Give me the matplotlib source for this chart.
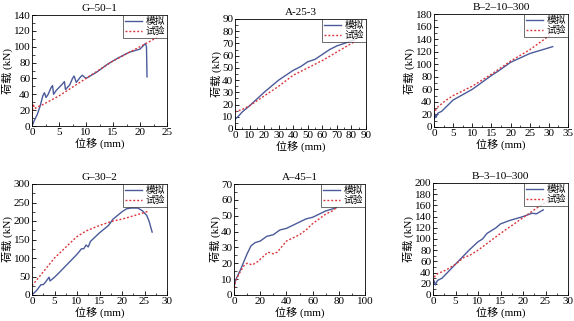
import matplotlib
matplotlib.use("Agg")
import matplotlib.pyplot as plt
from matplotlib.ticker import MultipleLocator, AutoMinorLocator

plt.rcParams['font.family'] = ['Liberation Serif', 'Noto Sans CJK SC']
plt.rcParams['font.size'] = 8

W, H = 574, 321

# panel titles
titles = ['G–50–1', 'A-25-3', 'B–2–10–300', 'G–30–2', 'A–45–1', 'B–3–10–300']

# simulated (模拟) curves
sim_x = [
    [0, 0.5, 1, 1.5, 2, 2.3, 2.6, 3, 3.5, 3.8, 4, 4.5, 5.5, 6, 6.2, 7, 7.5, 7.8, 8.2, 9, 9.3, 10, 12, 14, 16, 18, 20, 21, 21.2, 21.3],
    [0, 2, 5, 10, 20, 30, 40, 45, 50, 55, 60, 65, 70, 75, 82],
    [0, 0.3, 0.5, 1, 2, 5, 10, 15, 17, 20, 25, 31],
    [0, 1, 2, 2.5, 3, 3.8, 4, 5, 6, 8, 10, 11, 11.5, 12, 12.5, 13, 15, 17, 18, 20, 21, 22, 23.5, 24.5, 25.5, 26, 26.7],
    [0, 1, 5, 10, 13, 16, 20, 25, 30, 35, 40, 45, 50, 55, 60, 65, 70, 78],
    [0, 0.3, 0.5, 1, 2, 5, 8, 10, 11, 12, 14, 15, 17, 20, 22, 23, 24.5],
]
sim_y = [
    [0, 8, 15, 25, 38, 42, 36, 40, 48, 51, 40, 45, 52, 56, 46, 52, 60, 63, 55, 62, 64, 60, 68, 78, 86, 93, 97, 104, 100, 62],
    [8, 10, 14, 19, 30, 40, 48, 51, 55, 57, 61, 65, 68, 70, 73],
    [12, 20, 15, 22, 25, 43, 60, 82, 90, 103, 117, 128],
    [0, 12, 28, 28, 35, 48, 38, 48, 60, 85, 110, 125, 125, 135, 130, 145, 168, 188, 205, 225, 233, 235, 235, 228, 215, 200, 170],
    [5, 9, 16, 26, 31, 33, 34, 37, 38, 41, 42, 44, 46, 48, 49, 51, 53, 55],
    [20, 25, 18, 26, 30, 55, 80, 95, 100, 110, 120, 127, 133, 140, 146, 145, 152],
]

# test (试验) curves
test_x = [
    [0, 0.2, 0.5, 1, 2, 5, 10, 15, 20, 23.5],
    [0, 5, 10, 20, 30, 40, 50, 60, 70, 80, 83],
    [0, 0.5, 1, 3, 5, 10, 15, 20, 25, 30, 31],
    [0, 1, 3, 5, 8, 10, 12, 15, 18, 20, 22, 25, 26],
    [0, 1, 3, 5, 8, 10, 14, 18, 22, 26, 30, 33, 36, 40, 45, 50, 55, 60, 65, 70, 75, 78],
    [0, 0.5, 1, 3, 5, 7, 8, 10, 15, 20, 23, 25, 26],
]
test_y = [
    [10, 28, 22, 24, 27, 38, 60, 82, 100, 113],
    [14, 16, 19, 27, 35, 44, 50, 56, 63, 70, 72],
    [20, 28, 32, 42, 50, 65, 84, 105, 123, 145, 150],
    [25, 40, 70, 100, 135, 158, 173, 188, 200, 205, 212, 223, 227],
    [2, 8, 12, 15, 19, 20, 19, 21, 24, 27, 26, 27, 30, 34, 36, 38, 41, 45, 48, 51, 53, 55],
    [25, 35, 38, 45, 55, 68, 70, 80, 110, 138, 155, 165, 172],
]

xlims = [25, 90, 35, 30, 100, 30]
ylims = [140, 90, 180, 300, 70, 200]
xsteps = [5, 10, 5, 5, 20, 5]
ysteps = [20, 10, 20, 50, 10, 20]

# axes boxes in pixels: left, right, top, bottom
boxes = [
    (32, 167, 15, 126),
    (235, 366, 19, 129),
    (434, 568, 14, 127),
    (32, 167, 184, 295),
    (234, 365, 184, 295),
    (433, 568, 183, 295),
]

fig = plt.figure(figsize=(W / 100, H / 100), dpi=100)

for i in range(6):
    l, r, t, b = boxes[i]
    ax = fig.add_axes([l / W, 1 - b / H, (r - l) / W, (b - t) / H])
    ax.plot(sim_x[i], sim_y[i], color='#4a5a9a', lw=1.0, label='模拟')
    ax.plot(test_x[i], test_y[i], color='#d9343a', lw=1.0, ls=(0, (1.4, 1.4)), label='试验')
    ax.set_xlim(0, xlims[i])
    ax.set_ylim(0, ylims[i])
    ax.xaxis.set_major_locator(MultipleLocator(xsteps[i]))
    ax.yaxis.set_major_locator(MultipleLocator(ysteps[i]))
    ax.xaxis.set_minor_locator(AutoMinorLocator(2))
    ax.yaxis.set_minor_locator(AutoMinorLocator(2))
    ax.tick_params(which='both', direction='in', labelsize=8, pad=1.2)
    ax.tick_params(which='major', length=3, width=0.6)
    ax.tick_params(which='minor', length=1.8, width=0.5)
    for s in ax.spines.values():
        s.set_linewidth(0.6)
    ax.set_title(titles[i], fontsize=8, pad=3)
    ax.set_xlabel('位移 (mm)', fontsize=8, labelpad=0.5)
    ax.set_ylabel('荷载 (kN)', fontsize=8, labelpad=0.5)
    leg = ax.legend(loc='upper right', fontsize=7, frameon=True, fancybox=False,
                    edgecolor='black', handlelength=1.7, handletextpad=0.4,
                    borderpad=0.2, labelspacing=0.1, borderaxespad=0)
    leg.get_frame().set_linewidth(0.5)

fig.savefig('out.png', dpi=100)
